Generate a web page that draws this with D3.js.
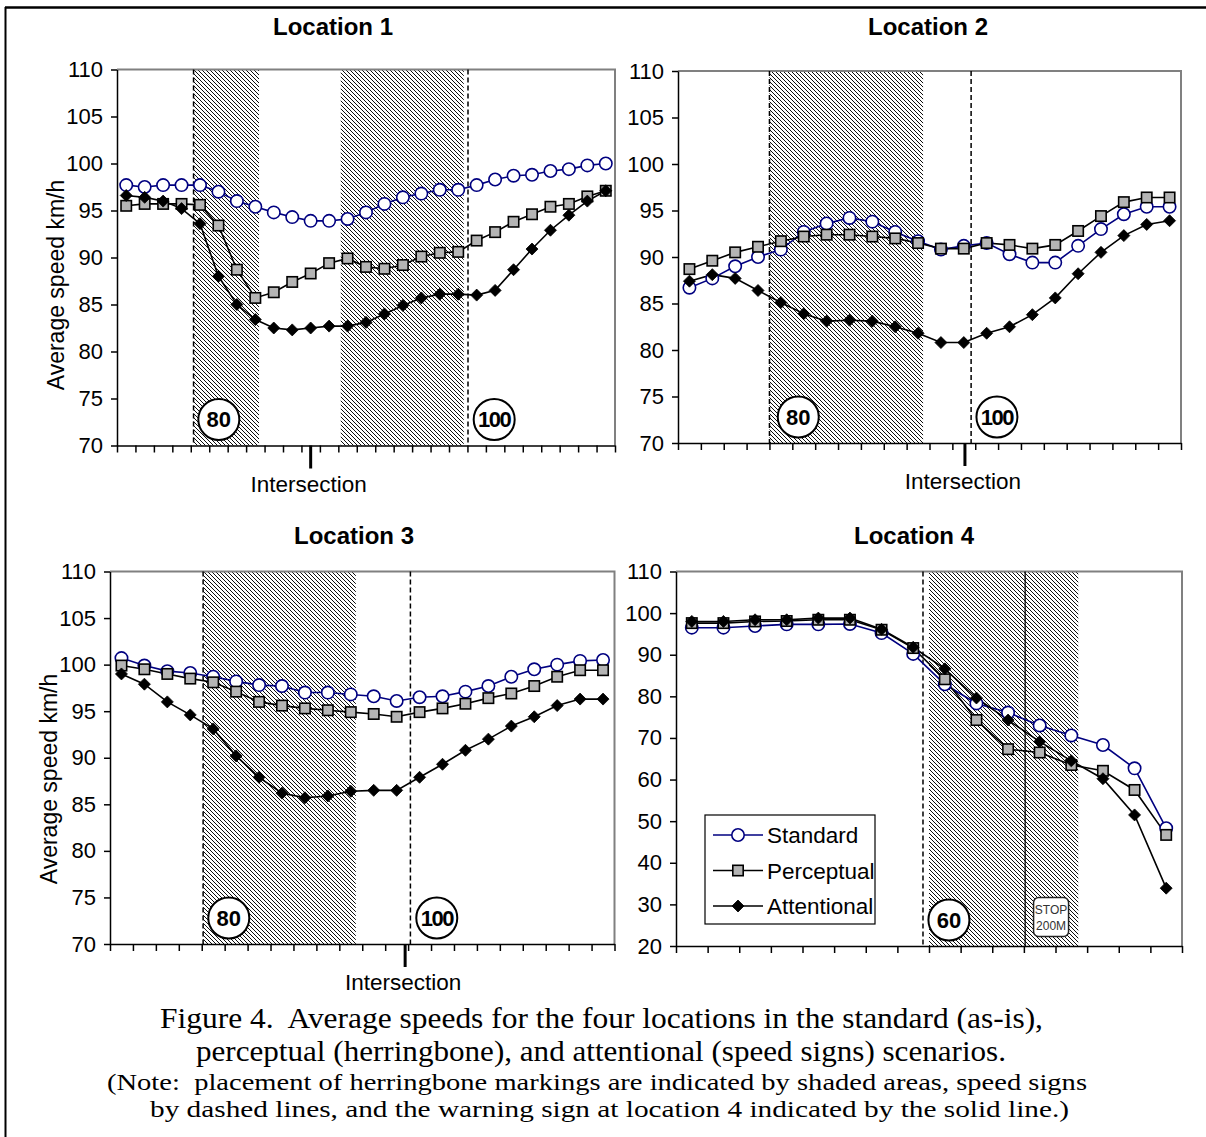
<!DOCTYPE html>
<html>
<head>
<meta charset="utf-8">
<script src="https://cdn.jsdelivr.net/npm/d3@7"></script>
<style>
  body { margin: 0; background: #fff; }
  svg { display: block; }
  text { font-family: Arial, "Liberation Sans", sans-serif; }
</style>
</head>
<body>
<svg id="fig" width="1206" height="1137"></svg>
<script>
// ---- data (km/h) ----
var seriesNames = ["Standard", "Perceptual", "Attentional"];

var loc1Standard    = [97.7, 97.5, 97.7, 97.7, 97.7, 97.0, 96.0, 95.4, 94.8, 94.3, 93.9, 93.9, 94.1, 94.8, 95.7, 96.4, 96.8, 97.2, 97.2, 97.7, 98.3, 98.7, 98.8, 99.2, 99.4, 99.8, 100.0];
var loc1Perceptual  = [95.5, 95.7, 95.7, 95.7, 95.6, 93.4, 88.7, 85.7, 86.3, 87.4, 88.3, 89.4, 89.9, 89.0, 88.8, 89.2, 90.1, 90.5, 90.6, 91.8, 92.7, 93.8, 94.6, 95.4, 95.7, 96.5, 97.1];
var loc1Attentional = [96.6, 96.4, 96.0, 95.2, 93.6, 88.0, 85.0, 83.4, 82.5, 82.3, 82.5, 82.7, 82.7, 83.1, 84.0, 84.9, 85.7, 86.1, 86.1, 86.0, 86.5, 88.7, 90.9, 92.9, 94.5, 96.0, 97.1];

var loc2Standard    = [86.7, 87.7, 89.0, 90.0, 90.8, 92.7, 93.6, 94.2, 93.8, 92.7, 91.7, 90.8, 91.2, 91.5, 90.3, 89.4, 89.4, 91.2, 93.0, 94.6, 95.4, 95.4];
var loc2Perceptual  = [88.7, 89.6, 90.5, 91.1, 91.7, 92.2, 92.4, 92.4, 92.2, 92.0, 91.5, 90.9, 90.9, 91.5, 91.3, 90.9, 91.3, 92.8, 94.4, 95.9, 96.4, 96.4];
var loc2Attentional = [87.4, 88.1, 87.7, 86.4, 85.1, 83.9, 83.1, 83.2, 83.1, 82.5, 81.8, 80.8, 80.8, 81.8, 82.5, 83.8, 85.6, 88.2, 90.5, 92.3, 93.5, 93.9];

var loc3Standard    = [100.7, 99.9, 99.3, 99.1, 98.7, 98.2, 97.8, 97.7, 97.0, 97.0, 96.8, 96.6, 96.1, 96.5, 96.6, 97.1, 97.7, 98.7, 99.5, 100.0, 100.4, 100.5];
var loc3Perceptual  = [99.9, 99.5, 99.0, 98.5, 98.1, 97.1, 96.0, 95.6, 95.3, 95.1, 94.9, 94.7, 94.4, 94.9, 95.3, 95.8, 96.4, 96.9, 97.7, 98.7, 99.4, 99.4];
var loc3Attentional = [99.0, 97.9, 96.0, 94.6, 93.1, 90.2, 87.9, 86.2, 85.7, 85.9, 86.4, 86.5, 86.5, 87.9, 89.3, 90.8, 92.0, 93.4, 94.4, 95.6, 96.3, 96.3];

var loc4Standard    = [96.5, 96.5, 96.9, 97.3, 97.3, 97.4, 95.2, 90.2, 82.9, 78.3, 76.1, 73.0, 70.6, 68.3, 62.7, 48.3];
var loc4Perceptual  = [97.6, 97.6, 98.0, 98.1, 98.4, 98.4, 96.0, 91.6, 84.1, 74.3, 67.3, 66.5, 63.5, 62.1, 57.5, 46.7];
var loc4Attentional = [98.0, 98.0, 98.4, 98.4, 98.8, 98.8, 96.1, 91.8, 86.6, 79.6, 74.3, 69.1, 64.5, 60.2, 51.5, 33.9];

var ticksA = [70, 75, 80, 85, 90, 95, 100, 105, 110];
var ticksB = [20, 30, 40, 50, 60, 70, 80, 90, 100, 110];

var captionLines = [
    "Figure 4.  Average speeds for the four locations in the standard (as-is),",
    "perceptual (herringbone), and attentional (speed signs) scenarios.",
    "(Note:  placement of herringbone markings are indicated by shaded areas, speed signs",
    "by dashed lines, and the warning sign at location 4 indicated by the solid line.)"
];

// annotation positions are in category units along the road (0 = first segment edge)
var panels = [
    { title: "Location 1", series: [loc1Standard, loc1Perceptual, loc1Attentional], ticks: ticksA,
      left: 117, right: 615, top: 69.5, bottom: 445.5, titleX: 333, titleY: 35, ylabel: true, ylabelX: 56, ylabelY: 285,
      shade: [[4.15, 7.7], [12.13, 18.8]], dashed: [4.15, 19.03], solid: [],
      signs: [["80", 5.52], ["100", 20.45]], stop: null, inter: 10.5 },
    { title: "Location 2", series: [loc2Standard, loc2Perceptual, loc2Attentional], ticks: ticksA,
      left: 678, right: 1181, top: 71, bottom: 443, titleX: 928, titleY: 35, ylabel: false,
      shade: [[4.0, 10.72]], dashed: [4.0, 12.82], solid: [],
      signs: [["80", 5.26], ["100", 13.95]], stop: null, inter: 12.55 },
    { title: "Location 3", series: [loc3Standard, loc3Perceptual, loc3Attentional], ticks: ticksA,
      left: 110, right: 614.5, top: 571.5, bottom: 944, titleX: 354, titleY: 544, ylabel: true, ylabelX: 49, ylabelY: 779,
      shade: [[4.06, 10.72]], dashed: [4.06, 13.1], solid: [],
      signs: [["80", 5.18], ["100", 14.25]], stop: null, inter: 12.87 },
    { title: "Location 4", series: [loc4Standard, loc4Perceptual, loc4Attentional], ticks: ticksB,
      left: 676, right: 1182, top: 571.5, bottom: 946, titleX: 914, titleY: 544, ylabel: false,
      shade: [[8.0, 12.72]], dashed: [7.81], solid: [11.04],
      signs: [["60", 8.63]], stop: 11.86, inter: null, legend: true }
];

var svg = d3.select("#fig");

// hatch pattern for the herringbone areas
var defs = svg.append("defs");
var hatch = defs.append("pattern")
    .attr("id", "hatch")
    .attr("patternUnits", "userSpaceOnUse")
    .attr("width", 4)
    .attr("height", 4);
hatch.append("path")
    .attr("d", "M-1,-1 L5,5 M3,-1 L5,1 M-1,3 L1,5")
    .attr("stroke", "#000")
    .attr("stroke-width", 0.95);

// outer frame (only top and left edges are visible in the picture)
svg.append("line").attr("x1", 5).attr("x2", 1206).attr("y1", 7.5).attr("y2", 7.5)
    .attr("stroke", "#000").attr("stroke-width", 2.5);
svg.append("line").attr("x1", 5.5).attr("x2", 5.5).attr("y1", 7).attr("y2", 1137)
    .attr("stroke", "#000").attr("stroke-width", 2);

var styles = [
    { line: "#000080", marker: "circle", fill: "#fff", stroke: "#000080" },
    { line: "#000", marker: "square", fill: "#b4b4b4", stroke: "#000" },
    { line: "#000", marker: "diamond", fill: "#000", stroke: "#000" }
];

function addMarker(sel, kind, fill, stroke) {
    if (kind === "circle") {
        sel.append("circle").attr("r", 6.2)
            .attr("fill", fill).attr("stroke", stroke).attr("stroke-width", 1.6);
    } else if (kind === "square") {
        sel.append("rect").attr("x", -5.2).attr("y", -5.2).attr("width", 10.4).attr("height", 10.4)
            .attr("fill", fill).attr("stroke", stroke).attr("stroke-width", 1.6);
    } else {
        sel.append("path").attr("d", "M0,-6 L6,0 L0,6 L-6,0 Z")
            .attr("fill", fill).attr("stroke", stroke).attr("stroke-width", 0.8);
    }
}

function drawPanel(p) {
    var g = svg.append("g");
    var n = p.series[0].length;
    var x = d3.scaleLinear().domain([0, n]).range([p.left, p.right]);
    var y = d3.scaleLinear().domain([p.ticks[0], p.ticks[p.ticks.length - 1]]).range([p.bottom, p.top]);

    // shaded herringbone zones
    p.shade.forEach(function(s) {
        g.append("rect")
            .attr("x", x(s[0])).attr("y", p.top)
            .attr("width", x(s[1]) - x(s[0])).attr("height", p.bottom - p.top)
            .attr("fill", "url(#hatch)");
    });

    // grey plot frame, top and right
    g.append("path")
        .attr("d", "M" + p.left + "," + p.top + " H" + p.right + " V" + p.bottom)
        .attr("fill", "none").attr("stroke", "#808080").attr("stroke-width", 2);

    // speed sign positions (dashed) and warning sign (solid)
    p.dashed.forEach(function(u) {
        g.append("line").attr("x1", x(u)).attr("x2", x(u)).attr("y1", p.top).attr("y2", p.bottom)
            .attr("stroke", "#000").attr("stroke-width", 1.5).attr("stroke-dasharray", "5,3");
    });
    p.solid.forEach(function(u) {
        g.append("line").attr("x1", x(u)).attr("x2", x(u)).attr("y1", p.top).attr("y2", p.bottom)
            .attr("stroke", "#000").attr("stroke-width", 1.3);
    });

    // round speed limit signs
    p.signs.forEach(function(s) {
        var sg = g.append("g").attr("transform", "translate(" + x(s[1]) + "," + (p.bottom - 26) + ")");
        sg.append("circle").attr("r", 20.5).attr("fill", "#fff").attr("stroke", "#000").attr("stroke-width", 2);
        sg.append("text").attr("text-anchor", "middle").attr("dy", "0.36em")
            .attr("font-size", 22).attr("font-weight", "bold")
            .attr("letter-spacing", s[0].length > 2 ? -1.5 : 0)
            .text(s[0]);
    });

    // STOP 200M warning sign
    if (p.stop !== null) {
        var st = g.append("g").attr("transform", "translate(" + x(p.stop) + "," + (p.bottom - 29) + ")");
        st.append("rect").attr("x", -17.5).attr("y", -19.5).attr("width", 35).attr("height", 39).attr("rx", 5)
            .attr("fill", "#fff").attr("stroke", "#222").attr("stroke-width", 1.5);
        st.append("text").attr("text-anchor", "middle").attr("y", -3).attr("font-size", 12).attr("fill", "#333").text("STOP");
        st.append("text").attr("text-anchor", "middle").attr("y", 13).attr("font-size", 12).attr("fill", "#333").text("200M");
    }

    // series
    var line = d3.line()
        .x(function(d, i) { return x(i + 0.5); })
        .y(function(d) { return y(d); });

    p.series.forEach(function(vals, k) {
        g.append("path").datum(vals)
            .attr("d", line)
            .attr("fill", "none").attr("stroke", styles[k].line).attr("stroke-width", 1.6);
    });
    p.series.forEach(function(vals, k) {
        var m = g.selectAll(null).data(vals).enter().append("g")
            .attr("transform", function(d, i) { return "translate(" + x(i + 0.5) + "," + y(d) + ")"; });
        addMarker(m, styles[k].marker, styles[k].fill, styles[k].stroke);
    });

    // axes
    var yAxis = g.append("g")
        .attr("transform", "translate(" + p.left + ",0)")
        .call(d3.axisLeft(y).tickValues(p.ticks).tickSize(6).tickSizeOuter(0).tickPadding(8));
    yAxis.attr("font-family", null);
    yAxis.selectAll("text").attr("font-size", 22).attr("fill", "#000");
    yAxis.selectAll("line, path").attr("stroke", "#000").attr("stroke-width", 1.5);

    var xAxis = g.append("g")
        .attr("transform", "translate(0," + p.bottom + ")")
        .call(d3.axisBottom(x).tickValues(d3.range(0, n + 1)).tickFormat("").tickSize(7).tickSizeOuter(0));
    xAxis.selectAll("line, path").attr("stroke", "#000").attr("stroke-width", 1.5);

    // intersection marker
    if (p.inter !== null) {
        g.append("line").attr("x1", x(p.inter)).attr("x2", x(p.inter))
            .attr("y1", p.bottom).attr("y2", p.bottom + 23)
            .attr("stroke", "#000").attr("stroke-width", 3);
        g.append("text").attr("x", x(p.inter) - 2).attr("y", p.bottom + 46)
            .attr("text-anchor", "middle").attr("font-size", 22.5).text("Intersection");
    }

    // title and y label
    svg.append("text").attr("x", p.titleX).attr("y", p.titleY)
        .attr("text-anchor", "middle").attr("font-size", 24).attr("font-weight", "bold")
        .text(p.title);
    if (p.ylabel) {
        svg.append("text")
            .attr("transform", "translate(" + p.ylabelX + "," + p.ylabelY + ") rotate(-90)")
            .attr("text-anchor", "middle").attr("dy", "0.35em").attr("font-size", 23)
            .text("Average speed km/h");
    }

    // legend
    if (p.legend) {
        var lg = svg.append("g").attr("transform", "translate(705,815)");
        lg.append("rect").attr("width", 170).attr("height", 109)
            .attr("fill", "#fff").attr("stroke", "#000").attr("stroke-width", 1.2);
        seriesNames.forEach(function(name, k) {
            var row = lg.append("g").attr("transform", "translate(0," + (20 + k * 35.5) + ")");
            row.append("line").attr("x1", 8).attr("x2", 58)
                .attr("stroke", styles[k].line).attr("stroke-width", 1.6);
            addMarker(row.append("g").attr("transform", "translate(33,0)"), styles[k].marker, styles[k].fill, styles[k].stroke);
            row.append("text").attr("x", 62).attr("dy", "0.36em").attr("font-size", 22.5).text(name);
        });
    }
}

panels.forEach(drawPanel);

// caption, Times-like, fitted to the measured line widths
var capX = [[160, 1043], [196, 1006], [107, 1087], [150, 1069]];
var capY = [1028, 1061, 1090, 1117];
var capSize = [28.5, 28.5, 24, 24];
captionLines.forEach(function(t, i) {
    svg.append("text")
        .attr("x", capX[i][0]).attr("y", capY[i])
        .attr("textLength", capX[i][1] - capX[i][0])
        .attr("lengthAdjust", "spacingAndGlyphs")
        .attr("font-size", capSize[i])
        .style("white-space", "pre")
        .style("font-family", "'Times New Roman', 'Liberation Serif', serif")
        .text(t);
});
</script>
</body>
</html>
